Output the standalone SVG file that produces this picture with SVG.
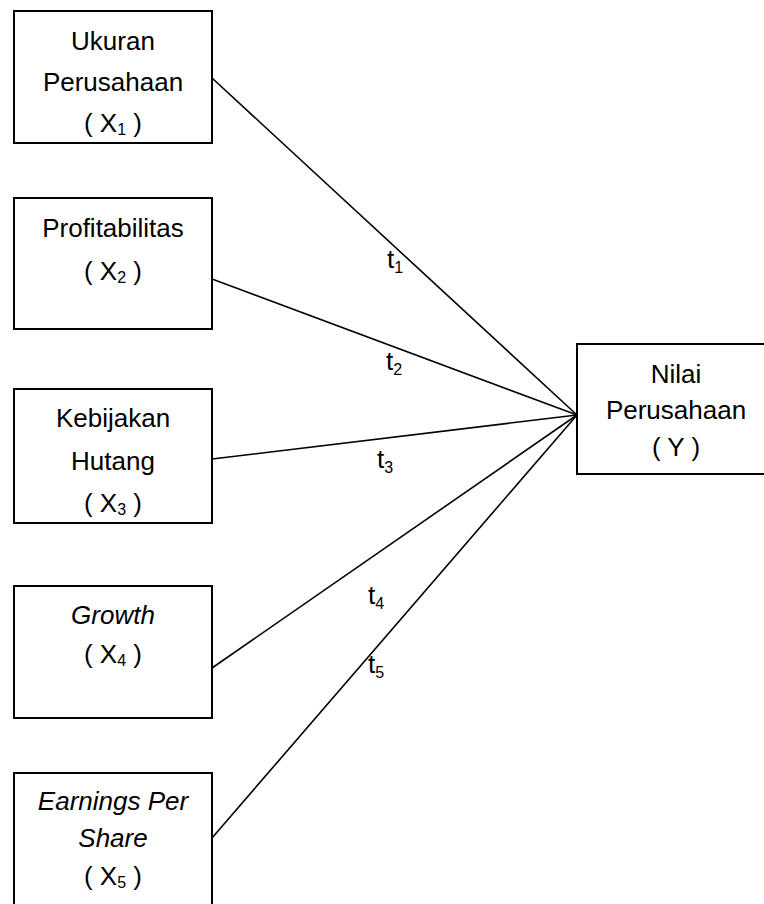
<svg xmlns="http://www.w3.org/2000/svg" width="764" height="904" viewBox="0 0 764 904">
<style>
  .box { fill: #fff; stroke: #000; stroke-width: 2; }
  .lbl { font-family: "Liberation Sans", Arial, sans-serif; font-size: 26px; fill: #000; text-anchor: middle; }
  .it { font-style: italic; }
  .sub { font-size: 16px; }
  .edge { stroke: #000; stroke-width: 1.6; fill: none; }
  .t { font-family: "Liberation Sans", Arial, sans-serif; font-size: 26px; fill: #000; }
</style>
<rect width="764" height="904" fill="#fff"/>
<g id="connectors">
  <line class="edge" x1="212" y1="78" x2="577" y2="415"/>
  <line class="edge" x1="212" y1="279" x2="577" y2="415"/>
  <line class="edge" x1="212" y1="459" x2="577" y2="415"/>
  <line class="edge" x1="212" y1="668" x2="577" y2="415"/>
  <line class="edge" x1="212" y1="838" x2="577" y2="415"/>
  <text class="t" x="387" y="268">t<tspan class="sub" dy="5">1</tspan></text>
  <text class="t" x="386" y="370">t<tspan class="sub" dy="5">2</tspan></text>
  <text class="t" x="377" y="468">t<tspan class="sub" dy="5">3</tspan></text>
  <text class="t" x="368" y="604">t<tspan class="sub" dy="5">4</tspan></text>
  <text class="t" x="368" y="673">t<tspan class="sub" dy="5">5</tspan></text>
</g>
<g id="x1">
  <rect class="box" x="14" y="11" width="198" height="132"/>
  <text class="lbl" x="113" y="50">Ukuran</text>
  <text class="lbl" x="113" y="91">Perusahaan</text>
  <text class="lbl" x="113" y="132">( X<tspan class="sub" dy="3">1</tspan><tspan dy="-3"> )</tspan></text>
</g>
<g id="x2">
  <rect class="box" x="14" y="198" width="198" height="131"/>
  <text class="lbl" x="113" y="237">Profitabilitas</text>
  <text class="lbl" x="113" y="280">( X<tspan class="sub" dy="3">2</tspan><tspan dy="-3"> )</tspan></text>
</g>
<g id="x3">
  <rect class="box" x="14" y="389" width="198" height="134"/>
  <text class="lbl" x="113" y="427">Kebijakan</text>
  <text class="lbl" x="113" y="470">Hutang</text>
  <text class="lbl" x="113" y="512">( X<tspan class="sub" dy="3">3</tspan><tspan dy="-3"> )</tspan></text>
</g>
<g id="x4">
  <rect class="box" x="14" y="586" width="198" height="132"/>
  <text class="lbl it" x="113" y="624">Growth</text>
  <text class="lbl" x="113" y="663">( X<tspan class="sub" dy="3">4</tspan><tspan dy="-3"> )</tspan></text>
</g>
<g id="x5">
  <rect class="box" x="14" y="773" width="198" height="140"/>
  <text class="lbl it" x="113" y="810">Earnings Per</text>
  <text class="lbl it" x="113" y="847">Share</text>
  <text class="lbl" x="113" y="885">( X<tspan class="sub" dy="3">5</tspan><tspan dy="-3"> )</tspan></text>
</g>
<g id="y">
  <rect class="box" x="577" y="344" width="198" height="130"/>
  <text class="lbl" x="676" y="383">Nilai</text>
  <text class="lbl" x="676" y="419">Perusahaan</text>
  <text class="lbl" x="676" y="456">( Y )</text>
</g>
</svg>
